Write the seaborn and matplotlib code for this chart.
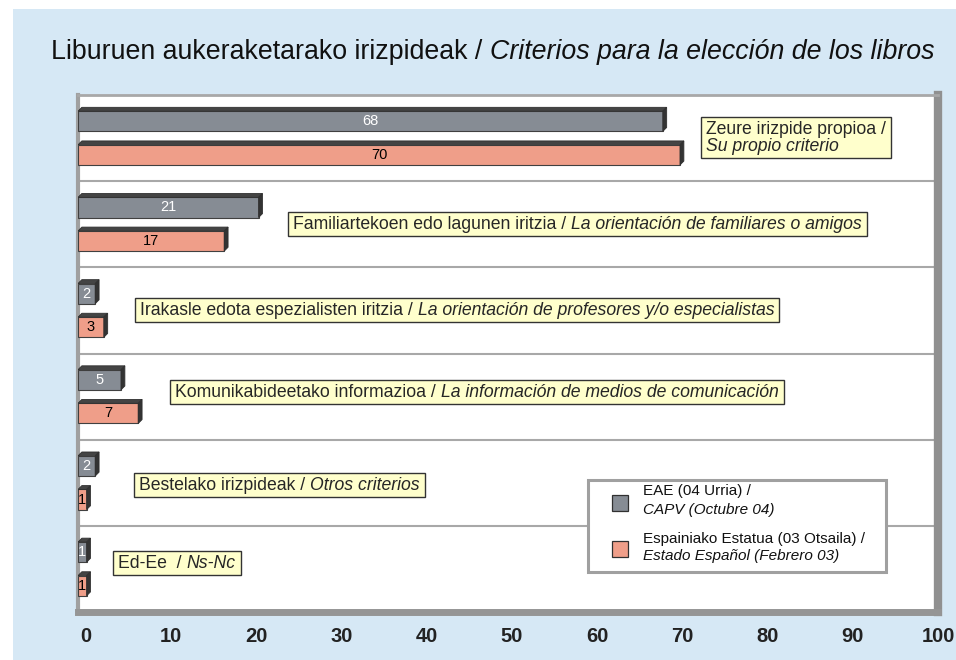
import numpy as np
import pandas as pd
import matplotlib
matplotlib.use("Agg")
import matplotlib.pyplot as plt
import seaborn as sns
from matplotlib.patches import Rectangle, Polygon
from matplotlib.transforms import Bbox, ScaledTranslation

# ---------------- data ----------------
categories = ["Zeure irizpide propioa", "Familiartekoen edo lagunen iritzia",
              "Irakasle edota espezialisten iritzia", "Komunikabideetako informazioa",
              "Bestelako irizpideak", "Ed-Ee"]
label_eu = ["Zeure irizpide propioa /", "Familiartekoen edo lagunen iritzia / ",
            "Irakasle edota espezialisten iritzia / ", "Komunikabideetako informazioa / ",
            "Bestelako irizpideak / ", "Ed-Ee  / "]
label_es = ["Su propio criterio", "La orientación de familiares o amigos",
            "La orientación de profesores y/o especialistas",
            "La información de medios de comunicación", "Otros criterios", "Ns-Nc"]
capv = [68, 21, 2, 5, 2, 1]
estado = [70, 17, 3, 7, 1, 1]
series_eu = ["EAE (04 Urria) /", "Espainiako Estatua (03 Otsaila) /"]
series_es = ["CAPV (Octubre 04)", "Estado Español (Febrero 03)"]
x_ticks = [0, 10, 20, 30, 40, 50, 60, 70, 80, 90, 100]
title_eu = "Liburuen aukeraketarako irizpideak / "
title_es = "Criterios para la elección de los libros"

# label box placement (data x of text start, y offset from category centre)
label_x = [73.0, 25.0, 7.2, 11.3, 7.1, 4.7]
label_dy = [0.0, 0.0, 0.0, -0.05, 0.035, -0.06]

GRAY = "#868C94"
SALMON = "#EF9E89"
BG = "#D6E8F5"
W, H = 956, 660

sns.set_style("white")
plt.rcParams["font.family"] = ["Liberation Sans", "DejaVu Sans"]

df = pd.DataFrame({
    "category": categories * 2,
    "series": [series_eu[0]] * len(categories) + [series_eu[1]] * len(categories),
    "value": capv + estado,
})

fig = plt.figure(figsize=(9.56, 6.6), dpi=100)
fig.patch.set_facecolor("white")
fig.add_artist(Rectangle((13 / W, 0), 1, 651 / H, transform=fig.transFigure,
                         facecolor=BG, edgecolor="none", zorder=-10))

ax = fig.add_axes([78 / W, 1 - 612 / H, 860 / W, 517 / H])
ax.set_facecolor("white")

sns.barplot(data=df, y="category", x="value", hue="series", orient="h",
            palette=[GRAY, SALMON], saturation=1, width=0.78, gap=0.4,
            edgecolor="#404040", linewidth=0.8, legend=False, ax=ax, zorder=3)

ax.set_xlim(0, 100)
ax.set_ylim(5.5, -0.5)
ax.set_xticks(x_ticks)
ax.set_xticklabels([str(t) for t in x_ticks], fontsize=14.5, fontweight="bold", color="#222222")
ax.tick_params(axis="x", length=0, pad=11)
# the reference's 3D axis puts its labels slightly right of the front plane
for t, lab in zip(x_ticks, ax.get_xticklabels()):
    shift = 8 * (100 - t) / 100
    lab.set_transform(lab.get_transform() + ScaledTranslation(shift / 100, 0, fig.dpi_scale_trans))
ax.set_yticks([])
ax.set_xlabel("")
ax.set_ylabel("")
ax.grid(False)

for yline in [0.5, 1.5, 2.5, 3.5, 4.5]:
    ax.axhline(yline, color="#A8A8A8", lw=1.5, zorder=1)

for side, c, lw in [("left", "#A0A0A0", 3), ("top", "#A8A8A8", 2),
                    ("right", "#909090", 6), ("bottom", "#959595", 5)]:
    ax.spines[side].set_visible(True)
    ax.spines[side].set_color(c)
    ax.spines[side].set_linewidth(lw)

# 3D look on bars
dx, dy = 0.45, 0.045
for cont in ax.containers:
    for p in cont.patches:
        x0, y0, w, h = p.get_x(), p.get_y(), p.get_width(), p.get_height()
        top = Polygon([(x0, y0), (x0 + dx, y0 - dy), (x0 + w + dx, y0 - dy), (x0 + w, y0)],
                      closed=True, facecolor="#444444", edgecolor="#303030", lw=0.6, zorder=3)
        right = Polygon([(x0 + w, y0), (x0 + w + dx, y0 - dy), (x0 + w + dx, y0 + h - dy), (x0 + w, y0 + h)],
                        closed=True, facecolor="#333333", edgecolor="#303030", lw=0.6, zorder=3)
        ax.add_patch(top)
        ax.add_patch(right)

ax.bar_label(ax.containers[0], label_type="center", color="white", fontsize=10.5, zorder=5)
ax.bar_label(ax.containers[1], label_type="center", color="black", fontsize=10.5, zorder=5)

# category label boxes
LFS = 12.7
texts = []
for i in range(len(categories)):
    yc = i + label_dy[i]
    if i == 0:
        t1 = ax.text(label_x[i], yc, label_eu[i], fontsize=LFS, ha="left", va="bottom", zorder=6)
        t2 = ax.annotate(label_es[i], xy=(0, 0), xycoords=t1, ha="left", va="top",
                         fontsize=LFS, style="italic", zorder=6)
    else:
        t1 = ax.text(label_x[i], yc, label_eu[i], fontsize=LFS, ha="left", va="center", zorder=6)
        t2 = ax.annotate(label_es[i], xy=(1, 0), xycoords=t1, ha="left", va="bottom",
                         fontsize=LFS, style="italic", zorder=6)
    texts.append((t1, t2))

# legend (built by hand so that the second line of each entry can be italic)
def fx(px):
    return px / W

def fy(py):
    return 1 - py / H

fig.add_artist(Rectangle((fx(588), fy(572)), fx(886) - fx(588), fy(480) - fy(572),
                         transform=fig.transFigure, facecolor="white",
                         edgecolor="#A0A0A0", lw=2.2, zorder=4))
legend_rows = [(503, 491, 510), (549, 539, 556)]
for (sq_c, l1, l2), col, s_eu, s_es in zip(legend_rows, [GRAY, SALMON], series_eu, series_es):
    fig.add_artist(Rectangle((fx(612), fy(sq_c + 8)), 16 / W, 16 / H,
                             transform=fig.transFigure, facecolor=col,
                             edgecolor="#303030", lw=0.9, zorder=5))
    fig.text(fx(643), fy(l1), s_eu, fontsize=11, ha="left", va="center",
             color="#111111", zorder=6)
    fig.text(fx(643), fy(l2), s_es, fontsize=11, ha="left", va="center",
             style="italic", color="#111111", zorder=6)

# title
tt1 = fig.text(51 / W, 1 - 52 / H, title_eu, fontsize=19.3, ha="left", va="center", color="#111111")
ax.annotate(title_es, xy=(1, 0), xycoords=tt1, ha="left", va="bottom",
            fontsize=19.3, style="italic", color="#111111", annotation_clip=False)

# draw boxes around label texts
fig.canvas.draw()
r = fig.canvas.get_renderer()
inv = ax.transData.inverted()
for t1, t2 in texts:
    b = Bbox.union([t1.get_window_extent(r), t2.get_window_extent(r)])
    (xa, ya) = inv.transform((b.x0 - 5, b.y0 - 3))
    (xb, yb) = inv.transform((b.x1 + 5, b.y1 + 4))
    ax.add_patch(Rectangle((xa, min(ya, yb)), xb - xa, abs(yb - ya), facecolor="#FFFFCC",
                           edgecolor="#333333", lw=1, zorder=5.5))

fig.savefig("out.png", dpi=100)
